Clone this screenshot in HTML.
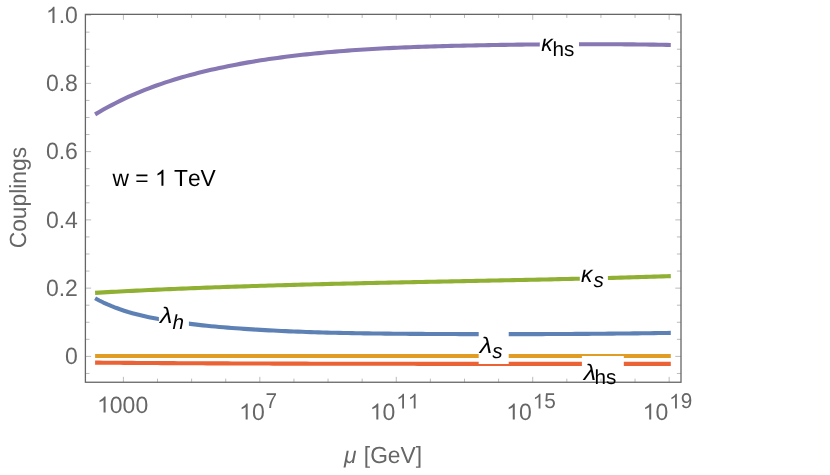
<!DOCTYPE html>
<html><head><meta charset="utf-8"><title>Couplings</title>
<style>html,body{margin:0;padding:0;background:#fff;}svg{display:block;will-change:transform;}text{font-family:"Liberation Sans",sans-serif;font-kerning:none;text-rendering:geometricPrecision;}</style></head><body>
<svg width="830" height="475" viewBox="0 0 830 475">
<rect x="0" y="0" width="830" height="475" fill="#ffffff"/>
<g fill="none" stroke-width="4.10" stroke-linecap="butt" stroke-linejoin="round">
<path d="M95.10 298.31 L99.24 300.49 L103.38 302.53 L107.53 304.42 L111.67 306.17 L115.81 307.79 L119.95 309.30 L124.09 310.69 L128.23 311.98 L132.38 313.17 L136.52 314.28 L140.66 315.30 L144.80 316.26 L148.94 317.15 L153.08 317.99 L157.23 318.78 L161.37 319.53 L165.51 320.25 L169.65 320.94 L173.79 321.59 L177.93 322.21 L182.08 322.80 L186.22 323.36 L190.36 323.89 L194.50 324.40 L198.64 324.88 L202.78 325.34 L206.93 325.78 L211.07 326.19 L215.21 326.58 L219.35 326.96 L223.49 327.31 L227.64 327.65 L231.78 327.98 L235.92 328.29 L240.06 328.58 L244.20 328.86 L248.34 329.14 L252.49 329.40 L256.63 329.65 L260.77 329.89 L264.91 330.13 L269.05 330.35 L273.19 330.56 L277.34 330.77 L281.48 330.96 L285.62 331.15 L289.76 331.33 L293.90 331.50 L298.04 331.66 L302.19 331.81 L306.33 331.96 L310.47 332.10 L314.61 332.23 L318.75 332.36 L322.89 332.48 L327.04 332.59 L331.18 332.70 L335.32 332.80 L339.46 332.89 L343.60 332.98 L347.75 333.07 L351.89 333.14 L356.03 333.22 L360.17 333.29 L364.31 333.35 L368.45 333.41 L372.60 333.47 L376.74 333.52 L380.88 333.57 L385.02 333.62 L389.16 333.66 L393.30 333.70 L397.45 333.73 L401.59 333.77 L405.73 333.80 L409.87 333.83 L414.01 333.86 L418.15 333.89 L422.30 333.91 L426.44 333.94 L430.58 333.96 L434.72 333.98 L438.86 334.00 L443.01 334.02 L447.15 334.04 L451.29 334.06 L455.43 334.07 L459.57 334.09 L463.71 334.10 L467.86 334.11 L472.00 334.12 L476.14 334.13 L480.28 334.14 L484.42 334.14 L488.56 334.15 L492.71 334.15 L496.85 334.15 L500.99 334.15 L505.13 334.15 L509.27 334.15 L513.41 334.15 L517.56 334.14 L521.70 334.13 L525.84 334.13 L529.98 334.12 L534.12 334.11 L538.26 334.09 L542.41 334.08 L546.55 334.06 L550.69 334.05 L554.83 334.03 L558.97 334.01 L563.12 333.99 L567.26 333.97 L571.40 333.94 L575.54 333.92 L579.68 333.89 L583.82 333.86 L587.97 333.83 L592.11 333.80 L596.25 333.76 L600.39 333.73 L604.53 333.69 L608.67 333.65 L612.82 333.61 L616.96 333.57 L621.10 333.53 L625.24 333.48 L629.38 333.44 L633.52 333.39 L637.67 333.34 L641.81 333.29 L645.95 333.23 L650.09 333.18 L654.23 333.12 L658.37 333.06 L662.52 333.00 L666.66 332.94 L670.80 332.88" stroke="#5E81B5"/>
<path d="M95.10 355.95 L670.80 355.95" stroke="#E19C24"/>
<path d="M95.10 292.83 L99.24 292.60 L103.38 292.37 L107.53 292.14 L111.67 291.91 L115.81 291.69 L119.95 291.48 L124.09 291.26 L128.23 291.05 L132.38 290.85 L136.52 290.64 L140.66 290.44 L144.80 290.25 L148.94 290.05 L153.08 289.86 L157.23 289.67 L161.37 289.49 L165.51 289.30 L169.65 289.12 L173.79 288.95 L177.93 288.77 L182.08 288.60 L186.22 288.43 L190.36 288.27 L194.50 288.10 L198.64 287.94 L202.78 287.78 L206.93 287.63 L211.07 287.48 L215.21 287.32 L219.35 287.18 L223.49 287.03 L227.64 286.89 L231.78 286.74 L235.92 286.61 L240.06 286.47 L244.20 286.33 L248.34 286.20 L252.49 286.07 L256.63 285.94 L260.77 285.81 L264.91 285.69 L269.05 285.56 L273.19 285.44 L277.34 285.32 L281.48 285.21 L285.62 285.09 L289.76 284.98 L293.90 284.86 L298.04 284.75 L302.19 284.64 L306.33 284.53 L310.47 284.43 L314.61 284.32 L318.75 284.22 L322.89 284.11 L327.04 284.01 L331.18 283.91 L335.32 283.81 L339.46 283.72 L343.60 283.62 L347.75 283.52 L351.89 283.43 L356.03 283.34 L360.17 283.25 L364.31 283.15 L368.45 283.06 L372.60 282.97 L376.74 282.88 L380.88 282.80 L385.02 282.71 L389.16 282.62 L393.30 282.54 L397.45 282.45 L401.59 282.37 L405.73 282.28 L409.87 282.20 L414.01 282.12 L418.15 282.03 L422.30 281.95 L426.44 281.87 L430.58 281.79 L434.72 281.70 L438.86 281.62 L443.01 281.54 L447.15 281.46 L451.29 281.38 L455.43 281.30 L459.57 281.22 L463.71 281.14 L467.86 281.05 L472.00 280.97 L476.14 280.89 L480.28 280.81 L484.42 280.73 L488.56 280.65 L492.71 280.56 L496.85 280.48 L500.99 280.40 L505.13 280.31 L509.27 280.23 L513.41 280.14 L517.56 280.06 L521.70 279.97 L525.84 279.89 L529.98 279.80 L534.12 279.71 L538.26 279.62 L542.41 279.53 L546.55 279.44 L550.69 279.35 L554.83 279.26 L558.97 279.16 L563.12 279.07 L567.26 278.97 L571.40 278.88 L575.54 278.78 L579.68 278.68 L583.82 278.58 L587.97 278.48 L592.11 278.38 L596.25 278.27 L600.39 278.17 L604.53 278.06 L608.67 277.95 L612.82 277.84 L616.96 277.73 L621.10 277.62 L625.24 277.50 L629.38 277.39 L633.52 277.27 L637.67 277.15 L641.81 277.03 L645.95 276.91 L650.09 276.78 L654.23 276.65 L658.37 276.52 L662.52 276.39 L666.66 276.26 L670.80 276.12" stroke="#8FB032"/>
<path d="M95.10 362.62 L99.24 362.65 L103.38 362.69 L107.53 362.72 L111.67 362.75 L115.81 362.78 L119.95 362.81 L124.09 362.84 L128.23 362.87 L132.38 362.90 L136.52 362.93 L140.66 362.96 L144.80 362.99 L148.94 363.01 L153.08 363.04 L157.23 363.07 L161.37 363.09 L165.51 363.12 L169.65 363.14 L173.79 363.16 L177.93 363.19 L182.08 363.21 L186.22 363.23 L190.36 363.25 L194.50 363.27 L198.64 363.29 L202.78 363.31 L206.93 363.33 L211.07 363.35 L215.21 363.37 L219.35 363.39 L223.49 363.41 L227.64 363.42 L231.78 363.44 L235.92 363.46 L240.06 363.47 L244.20 363.49 L248.34 363.50 L252.49 363.52 L256.63 363.53 L260.77 363.54 L264.91 363.56 L269.05 363.57 L273.19 363.58 L277.34 363.60 L281.48 363.61 L285.62 363.62 L289.76 363.63 L293.90 363.64 L298.04 363.65 L302.19 363.66 L306.33 363.67 L310.47 363.68 L314.61 363.69 L318.75 363.70 L322.89 363.71 L327.04 363.71 L331.18 363.72 L335.32 363.73 L339.46 363.74 L343.60 363.74 L347.75 363.75 L351.89 363.76 L356.03 363.76 L360.17 363.77 L364.31 363.77 L368.45 363.78 L372.60 363.78 L376.74 363.79 L380.88 363.79 L385.02 363.80 L389.16 363.80 L393.30 363.81 L397.45 363.81 L401.59 363.81 L405.73 363.82 L409.87 363.82 L414.01 363.82 L418.15 363.83 L422.30 363.83 L426.44 363.83 L430.58 363.83 L434.72 363.84 L438.86 363.84 L443.01 363.84 L447.15 363.84 L451.29 363.84 L455.43 363.84 L459.57 363.85 L463.71 363.85 L467.86 363.85 L472.00 363.85 L476.14 363.85 L480.28 363.85 L484.42 363.85 L488.56 363.85 L492.71 363.85 L496.85 363.85 L500.99 363.86 L505.13 363.86 L509.27 363.86 L513.41 363.86 L517.56 363.86 L521.70 363.86 L525.84 363.86 L529.98 363.86 L534.12 363.86 L538.26 363.86 L542.41 363.86 L546.55 363.86 L550.69 363.86 L554.83 363.86 L558.97 363.86 L563.12 363.86 L567.26 363.86 L571.40 363.86 L575.54 363.87 L579.68 363.87 L583.82 363.87 L587.97 363.87 L592.11 363.87 L596.25 363.87 L600.39 363.87 L604.53 363.87 L608.67 363.88 L612.82 363.88 L616.96 363.88 L621.10 363.88 L625.24 363.88 L629.38 363.88 L633.52 363.89 L637.67 363.89 L641.81 363.89 L645.95 363.89 L650.09 363.90 L654.23 363.90 L658.37 363.90 L662.52 363.91 L666.66 363.91 L670.80 363.91" stroke="#EB6235"/>
<path d="M95.10 114.38 L99.24 111.94 L103.38 109.57 L107.53 107.29 L111.67 105.08 L115.81 102.95 L119.95 100.88 L124.09 98.89 L128.23 96.97 L132.38 95.11 L136.52 93.32 L140.66 91.59 L144.80 89.92 L148.94 88.31 L153.08 86.76 L157.23 85.26 L161.37 83.82 L165.51 82.42 L169.65 81.08 L173.79 79.78 L177.93 78.52 L182.08 77.31 L186.22 76.14 L190.36 75.01 L194.50 73.91 L198.64 72.85 L202.78 71.83 L206.93 70.83 L211.07 69.86 L215.21 68.93 L219.35 68.02 L223.49 67.14 L227.64 66.28 L231.78 65.45 L235.92 64.65 L240.06 63.87 L244.20 63.12 L248.34 62.39 L252.49 61.69 L256.63 61.00 L260.77 60.34 L264.91 59.71 L269.05 59.09 L273.19 58.49 L277.34 57.91 L281.48 57.35 L285.62 56.82 L289.76 56.29 L293.90 55.79 L298.04 55.30 L302.19 54.83 L306.33 54.38 L310.47 53.94 L314.61 53.51 L318.75 53.10 L322.89 52.71 L327.04 52.33 L331.18 51.96 L335.32 51.61 L339.46 51.27 L343.60 50.94 L347.75 50.62 L351.89 50.32 L356.03 50.03 L360.17 49.75 L364.31 49.49 L368.45 49.23 L372.60 48.99 L376.74 48.75 L380.88 48.53 L385.02 48.31 L389.16 48.10 L393.30 47.91 L397.45 47.72 L401.59 47.54 L405.73 47.37 L409.87 47.20 L414.01 47.05 L418.15 46.90 L422.30 46.75 L426.44 46.62 L430.58 46.49 L434.72 46.36 L438.86 46.24 L443.01 46.13 L447.15 46.02 L451.29 45.92 L455.43 45.82 L459.57 45.72 L463.71 45.63 L467.86 45.54 L472.00 45.45 L476.14 45.37 L480.28 45.29 L484.42 45.21 L488.56 45.13 L492.71 45.06 L496.85 44.98 L500.99 44.92 L505.13 44.85 L509.27 44.79 L513.41 44.73 L517.56 44.67 L521.70 44.62 L525.84 44.56 L529.98 44.52 L534.12 44.47 L538.26 44.43 L542.41 44.39 L546.55 44.35 L550.69 44.32 L554.83 44.29 L558.97 44.27 L563.12 44.24 L567.26 44.22 L571.40 44.21 L575.54 44.20 L579.68 44.19 L583.82 44.18 L587.97 44.18 L592.11 44.18 L596.25 44.19 L600.39 44.19 L604.53 44.21 L608.67 44.22 L612.82 44.24 L616.96 44.27 L621.10 44.30 L625.24 44.33 L629.38 44.36 L633.52 44.40 L637.67 44.45 L641.81 44.49 L645.95 44.55 L650.09 44.60 L654.23 44.66 L658.37 44.73 L662.52 44.79 L666.66 44.87 L670.80 44.94" stroke="#8778B3"/>
</g>
<rect x="539.80" y="34.00" width="39.20" height="24.00" fill="#fff"/>
<rect x="579.80" y="264.00" width="28.10" height="26.00" fill="#fff"/>
<rect x="158.90" y="302.00" width="30.00" height="30.00" fill="#fff"/>
<rect x="478.70" y="330.00" width="30.00" height="34.00" fill="#fff"/>
<rect x="581.90" y="356.00" width="41.90" height="32.00" fill="#fff"/>
<g stroke="#666666" stroke-width="0.45" fill="none">
<path d="M123.40 382.25 V376.85 M123.40 14.35 V19.75"/>
<path d="M157.51 382.25 V378.65 M157.51 14.35 V17.95"/>
<path d="M191.62 382.25 V378.65 M191.62 14.35 V17.95"/>
<path d="M225.73 382.25 V378.65 M225.73 14.35 V17.95"/>
<path d="M259.84 382.25 V376.85 M259.84 14.35 V19.75"/>
<path d="M293.95 382.25 V378.65 M293.95 14.35 V17.95"/>
<path d="M328.06 382.25 V378.65 M328.06 14.35 V17.95"/>
<path d="M362.17 382.25 V378.65 M362.17 14.35 V17.95"/>
<path d="M396.28 382.25 V376.85 M396.28 14.35 V19.75"/>
<path d="M430.39 382.25 V378.65 M430.39 14.35 V17.95"/>
<path d="M464.50 382.25 V378.65 M464.50 14.35 V17.95"/>
<path d="M498.61 382.25 V378.65 M498.61 14.35 V17.95"/>
<path d="M532.72 382.25 V376.85 M532.72 14.35 V19.75"/>
<path d="M566.83 382.25 V378.65 M566.83 14.35 V17.95"/>
<path d="M600.94 382.25 V378.65 M600.94 14.35 V17.95"/>
<path d="M635.05 382.25 V378.65 M635.05 14.35 V17.95"/>
<path d="M669.16 382.25 V376.85 M669.16 14.35 V19.75"/>
<path d="M85.40 373.46 H89.50 M681.00 373.46 H676.90"/>
<path d="M85.40 356.40 H91.10 M681.00 356.40 H675.30"/>
<path d="M85.40 339.33 H89.50 M681.00 339.33 H676.90"/>
<path d="M85.40 322.27 H89.50 M681.00 322.27 H676.90"/>
<path d="M85.40 305.20 H89.50 M681.00 305.20 H676.90"/>
<path d="M85.40 288.14 H91.10 M681.00 288.14 H675.30"/>
<path d="M85.40 271.07 H89.50 M681.00 271.07 H676.90"/>
<path d="M85.40 254.01 H89.50 M681.00 254.01 H676.90"/>
<path d="M85.40 236.94 H89.50 M681.00 236.94 H676.90"/>
<path d="M85.40 219.88 H91.10 M681.00 219.88 H675.30"/>
<path d="M85.40 202.81 H89.50 M681.00 202.81 H676.90"/>
<path d="M85.40 185.75 H89.50 M681.00 185.75 H676.90"/>
<path d="M85.40 168.68 H89.50 M681.00 168.68 H676.90"/>
<path d="M85.40 151.62 H91.10 M681.00 151.62 H675.30"/>
<path d="M85.40 134.55 H89.50 M681.00 134.55 H676.90"/>
<path d="M85.40 117.49 H89.50 M681.00 117.49 H676.90"/>
<path d="M85.40 100.42 H89.50 M681.00 100.42 H676.90"/>
<path d="M85.40 83.36 H91.10 M681.00 83.36 H675.30"/>
<path d="M85.40 66.29 H89.50 M681.00 66.29 H676.90"/>
<path d="M85.40 49.23 H89.50 M681.00 49.23 H676.90"/>
<path d="M85.40 32.16 H89.50 M681.00 32.16 H676.90"/>
<path d="M85.40 15.10 H91.10 M681.00 15.10 H675.30"/>
</g>
<rect x="85.40" y="14.35" width="595.60" height="367.90" fill="none" stroke="#666666" stroke-width="1.3"/>
<path transform="matrix(0.01123 0 0 -0.01102 45.93 22.95)" d="M763 0H583V1147Q518 1085 412.5 1023T223 930V1104Q374 1175 487 1276T647 1472H763Z" fill="#666666"/>
<text transform="matrix(1.0000 0.0004 0 1.0250 58.72 22.95)" font-size="23.00" fill="#666666" text-anchor="start">.0</text>
<text transform="matrix(1.0000 0.0004 0 1.0250 45.93 91.21)" font-size="23.00" fill="#666666" text-anchor="start">0.8</text>
<text transform="matrix(1.0000 0.0004 0 1.0250 45.93 159.47)" font-size="23.00" fill="#666666" text-anchor="start">0.6</text>
<text transform="matrix(1.0000 0.0004 0 1.0250 45.93 227.73)" font-size="23.00" fill="#666666" text-anchor="start">0.4</text>
<text transform="matrix(1.0000 0.0004 0 1.0250 45.93 295.99)" font-size="23.00" fill="#666666" text-anchor="start">0.2</text>
<text transform="matrix(1.0000 0.0004 0 1.0250 65.11 364.25)" font-size="23.00" fill="#666666" text-anchor="start">0</text>
<path transform="matrix(0.01123 0 0 -0.01102 97.02 412.60)" d="M763 0H583V1147Q518 1085 412.5 1023T223 930V1104Q374 1175 487 1276T647 1472H763Z" fill="#666666"/>
<text transform="matrix(1.0000 0.0004 0 1.0250 109.81 412.60)" font-size="23.00" fill="#666666" text-anchor="start">000</text>
<path transform="matrix(0.01123 0 0 -0.01102 239.11 419.60)" d="M763 0H583V1147Q518 1085 412.5 1023T223 930V1104Q374 1175 487 1276T647 1472H763Z" fill="#666666"/>
<text transform="matrix(1.0000 0.0004 0 1.0250 251.91 419.60)" font-size="23.00" fill="#666666" text-anchor="start">0</text>
<text transform="matrix(1.0000 0.0004 0 1.0250 265.60 408.43)" font-size="20.80" fill="#666666" text-anchor="start">7</text>
<path transform="matrix(0.01123 0 0 -0.01102 369.77 419.60)" d="M763 0H583V1147Q518 1085 412.5 1023T223 930V1104Q374 1175 487 1276T647 1472H763Z" fill="#666666"/>
<text transform="matrix(1.0000 0.0004 0 1.0250 382.56 419.60)" font-size="23.00" fill="#666666" text-anchor="start">0</text>
<path transform="matrix(0.01016 0 0 -0.00996 396.25 408.43)" d="M763 0H583V1147Q518 1085 412.5 1023T223 930V1104Q374 1175 487 1276T647 1472H763Z" fill="#666666"/>
<path transform="matrix(0.01016 0 0 -0.00996 407.82 408.43)" d="M763 0H583V1147Q518 1085 412.5 1023T223 930V1104Q374 1175 487 1276T647 1472H763Z" fill="#666666"/>
<path transform="matrix(0.01123 0 0 -0.01102 506.21 419.60)" d="M763 0H583V1147Q518 1085 412.5 1023T223 930V1104Q374 1175 487 1276T647 1472H763Z" fill="#666666"/>
<text transform="matrix(1.0000 0.0004 0 1.0250 519.00 419.60)" font-size="23.00" fill="#666666" text-anchor="start">0</text>
<path transform="matrix(0.01016 0 0 -0.00996 532.69 408.43)" d="M763 0H583V1147Q518 1085 412.5 1023T223 930V1104Q374 1175 487 1276T647 1472H763Z" fill="#666666"/>
<text transform="matrix(1.0000 0.0004 0 1.0250 544.26 408.43)" font-size="20.80" fill="#666666" text-anchor="start">5</text>
<path transform="matrix(0.01123 0 0 -0.01102 642.65 419.60)" d="M763 0H583V1147Q518 1085 412.5 1023T223 930V1104Q374 1175 487 1276T647 1472H763Z" fill="#666666"/>
<text transform="matrix(1.0000 0.0004 0 1.0250 655.44 419.60)" font-size="23.00" fill="#666666" text-anchor="start">0</text>
<path transform="matrix(0.01016 0 0 -0.00996 669.13 408.43)" d="M763 0H583V1147Q518 1085 412.5 1023T223 930V1104Q374 1175 487 1276T647 1472H763Z" fill="#666666"/>
<text transform="matrix(1.0000 0.0004 0 1.0250 680.70 408.43)" font-size="20.80" fill="#666666" text-anchor="start">9</text>
<text transform="matrix(1.0000 0.0004 0 1.0250 344.00 462.80)" font-size="22.80" fill="#666666" text-anchor="start"><tspan font-style="italic">μ</tspan><tspan dx="7.3">[GeV]</tspan></text>
<text transform="translate(26.3 197.6) rotate(-90.02) scale(1 1.025)" text-anchor="middle" fill="#666666" font-size="22.80">Couplings</text>
<text transform="matrix(1.0000 0.0004 0 1.0250 112.50 185.70)" font-size="22.80" fill="#000" text-anchor="start" xml:space="preserve">w = </text>
<path transform="matrix(0.01113 0 0 -0.01092 154.95 185.70)" d="M763 0H583V1147Q518 1085 412.5 1023T223 930V1104Q374 1175 487 1276T647 1472H763Z" fill="#000"/>
<text transform="matrix(1.0000 0.0004 0 1.0250 173.96 185.70)" font-size="22.80" fill="#000" text-anchor="start">TeV</text>
<text transform="matrix(1.0000 0.0004 0 1.0250 541.22 50.80)" font-size="22.80" fill="#000" text-anchor="start" font-style="italic">κ</text>
<text transform="matrix(1.0000 0.0004 0 0.9900 552.46 55.90)" font-size="20.70" fill="#000" text-anchor="start">hs</text>
<text transform="matrix(1.0000 0.0004 0 1.0250 581.02 281.60)" font-size="22.80" fill="#000" text-anchor="start" font-style="italic">κ</text>
<text transform="matrix(1.0000 0.0004 0 0.9900 593.45 287.00)" font-size="20.70" fill="#000" text-anchor="start" font-style="italic">s</text>
<text transform="matrix(1.1000 0.0004 0 0.9900 160.04 322.80)" font-size="22.80" fill="#000" text-anchor="start" font-style="italic">λ</text>
<text transform="matrix(1.0000 0.0004 0 0.9900 172.46 328.70)" font-size="20.70" fill="#000" text-anchor="start" font-style="italic">h</text>
<text transform="matrix(1.1000 0.0004 0 0.9900 479.64 352.80)" font-size="22.80" fill="#000" text-anchor="start" font-style="italic">λ</text>
<text transform="matrix(1.0000 0.0004 0 0.9900 492.35 358.30)" font-size="20.70" fill="#000" text-anchor="start" font-style="italic">s</text>
<text transform="matrix(1.1000 0.0004 0 0.9900 583.64 379.70)" font-size="22.80" fill="#000" text-anchor="start" font-style="italic">λ</text>
<text transform="matrix(1.0000 0.0004 0 0.9900 594.56 384.40)" font-size="20.70" fill="#000" text-anchor="start">hs</text>
</svg></body></html>
